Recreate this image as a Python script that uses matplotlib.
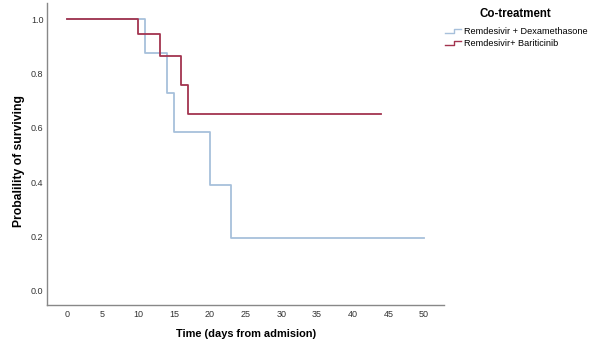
import matplotlib
matplotlib.use("Agg")
import matplotlib.pyplot as plt
from matplotlib.lines import Line2D
from matplotlib.legend_handler import HandlerBase

plt.rcParams['font.family'] = ['Liberation Sans', 'DejaVu Sans']

# Kaplan-Meier step data (time, survival)
dexa_time = [0, 11, 14, 15, 20, 23, 50]
dexa_surv = [1.0, 0.875, 0.729, 0.583, 0.389, 0.194, 0.194]
bari_time = [0, 10, 13, 16, 17, 44]
bari_surv = [1.0, 0.944, 0.866, 0.758, 0.650, 0.650]

series_names = ["Remdesivir + Dexamethasone", "Remdesivir+ Bariticinib"]
x_ticks = [0, 5, 10, 15, 20, 25, 30, 35, 40, 45, 50]
y_ticks = [0.0, 0.2, 0.4, 0.6, 0.8, 1.0]

blue = "#a7c0db"
red = "#a3344f"


def steps(t, s):
    xs, ys = [t[0]], [s[0]]
    for i in range(1, len(t)):
        xs += [t[i], t[i]]
        ys += [s[i - 1], s[i]]
    return xs, ys


class StepHandler(HandlerBase):
    def create_artists(self, legend, orig_handle, xdescent, ydescent,
                       width, height, fontsize, trans):
        x0, y0 = -xdescent, -ydescent
        xs = [x0, x0 + width * 0.55, x0 + width * 0.55, x0 + width]
        ys = [y0 + height * 0.1, y0 + height * 0.1, y0 + height * 0.8, y0 + height * 0.8]
        ln = Line2D(xs, ys, color=orig_handle.get_color(), lw=1.0, transform=trans)
        return [ln]


fig = plt.figure(figsize=(5.93, 3.49), dpi=100)
ax = fig.add_axes([0.0793, 0.127, 0.6697, 0.864])

x1, y1 = steps(dexa_time, dexa_surv)
x2, y2 = steps(bari_time, bari_surv)
l1, = ax.plot(x1, y1, color=blue, lw=1.3, label=series_names[0])
l2, = ax.plot(x2, y2, color=red, lw=1.3, label=series_names[1])

ax.set_xlim(-2.76, 52.8)
ax.set_ylim(-0.0515, 1.059)
ax.set_xticks(x_ticks)
ax.set_yticks(y_ticks)
ax.set_yticklabels([f"{v:.1f}" for v in y_ticks])
ax.tick_params(length=0, labelsize=6.5, colors="#333333")
ax.tick_params(axis="x", pad=4)
ax.tick_params(axis="y", pad=2.5)
for s in ["top", "right"]:
    ax.spines[s].set_visible(False)
for s in ["left", "bottom"]:
    ax.spines[s].set_color("#888888")
    ax.spines[s].set_linewidth(1.0)

ax.set_xlabel("Time (days from admision)", fontsize=7.9, fontweight="bold", labelpad=7)
ax.set_ylabel("Probalility of surviving", fontsize=8.7, fontweight="bold")
ax.yaxis.set_label_coords(-0.056, 0.476)

fig.text(515 / 593, 1 - 14 / 349, "Co-treatment", ha="center", va="center",
         fontsize=8.3, fontweight="bold")
leg = fig.legend(handles=[l1, l2], labels=series_names,
                 handler_map={Line2D: StepHandler()},
                 loc="upper left", bbox_to_anchor=(445 / 593, 1 - 27 / 349),
                 frameon=False, fontsize=6.6,
                 handlelength=1.7, handletextpad=0.35, labelspacing=0.3,
                 borderaxespad=0, borderpad=0)

fig.savefig("out.png", dpi=100)
